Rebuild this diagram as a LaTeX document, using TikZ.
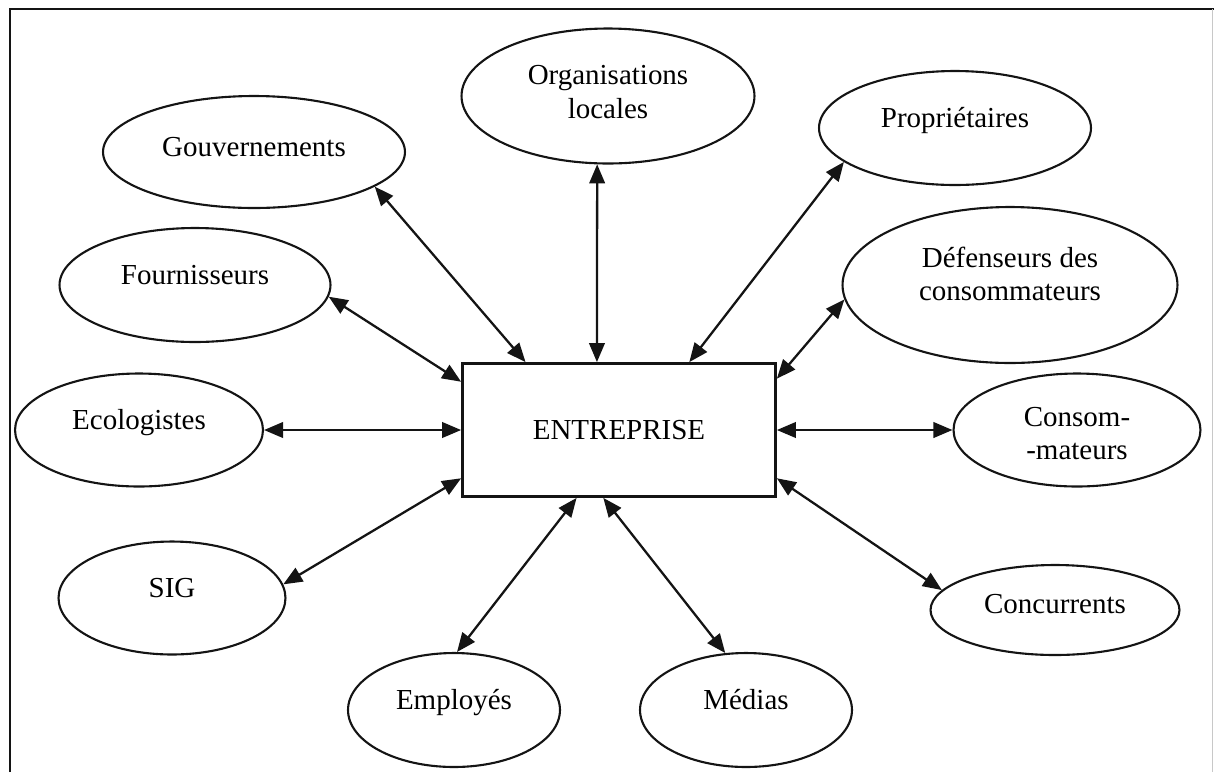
\documentclass[tikz,border=0pt]{standalone}
\usepackage{fontspec}
\setmainfont{Liberation Serif}
\usepackage{tikz}
\usetikzlibrary{shapes.geometric,arrows.meta}
\definecolor{ink}{HTML}{141414}
\definecolor{edge}{HTML}{C8C8C8}
\tikzset{
  firm/.style={draw=ink, line width=1.6pt, minimum width=6.26cm, minimum height=2.66cm, inner sep=0pt, font=\fontsize{16.5}{19}\selectfont},
  party/.style={ellipse, draw=ink, line width=1.2pt, inner sep=0pt, align=center, font=\fontsize{16.5}{19}\selectfont},
  one/.style={text height=11pt, text depth=#1},
  one/.default=12pt,
  link/.style={draw=ink, line width=1.3pt, {Triangle[length=3.8mm,width=3.1mm]}-{Triangle[length=3.8mm,width=3.1mm]}},
  rim/.style={draw=ink, line width=1.3pt},
}
\begin{document}
\begin{tikzpicture}[x=0.02cm, y=-0.02cm]
  \useasboundingbox (0,0) rectangle (1214,772);
  \draw[rim] (10,772) -- (10,9) -- (1214,9);
  \draw[draw=edge, line width=0.5pt] (1212,9) -- (1212,772);

  \node[firm] (firm) at (619,430) {ENTREPRISE};

  \node[party, text depth=4.5pt, minimum width=5.86cm, minimum height=2.70cm] (org) at (608,96) {Organisations\\locales};
  \node[party, one=6.4pt, minimum width=6.04cm, minimum height=2.24cm] (gouv) at (254,152) {Gouvernements};
  \node[party, one, minimum width=5.44cm, minimum height=2.28cm] (prop) at (955,128) {Propriétaires};
  \node[party, one, minimum width=5.42cm, minimum height=2.28cm] (four) at (195,285) {Fournisseurs};
  \node[party, text depth=12.5pt, minimum width=6.70cm, minimum height=3.12cm] (def) at (1010,285) {Défenseurs des\\consommateurs};
  \node[party, one, minimum width=4.96cm, minimum height=2.26cm] (eco) at (139,430) {Ecologistes};
  \node[party, text height=34pt, text depth=0pt, minimum width=4.94cm, minimum height=2.26cm] (cons) at (1077,430) {Consom-\\-mateurs};
  \node[party, one, minimum width=4.54cm, minimum height=2.26cm] (sig) at (172,598) {SIG};
  \node[party, one=7.5pt, minimum width=4.98cm, minimum height=1.80cm] (conc) at (1055,610) {Concurrents};
  \node[party, one, minimum width=4.24cm, minimum height=2.28cm] (emp) at (454,710) {Employés};
  \node[party, one, minimum width=4.24cm, minimum height=2.28cm] (med) at (746,710) {Médias};

  % double arrows towards the firm
  \draw[link] (gouv.344) -- (firm.144);
  \draw[link] (org.261) -- (firm.108);
  \draw[link] (prop.197) -- (firm.44);
  \draw[link] (four.355) -- (firm.163);
  \draw[link] (def.185) -- (firm.18);
  \draw[link] (eco.east) -- (firm.west);
  \draw[link] (cons.west) -- (firm.east);
  \draw[link] (sig.7) -- (firm.197);
  \draw[link] (conc.170) -- (firm.343);
  \draw[link] (emp.87) -- (firm.238);
  \draw[link] (med.110) -- (firm.257);
\end{tikzpicture}
\end{document}
